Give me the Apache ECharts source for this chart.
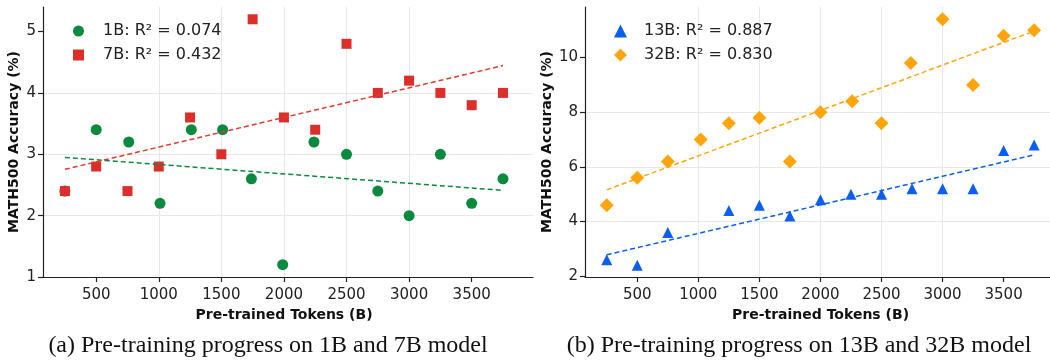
<!DOCTYPE html>
<html>
<head>
<meta charset="utf-8">
<script src="https://cdn.jsdelivr.net/npm/echarts@6/dist/echarts.min.js"></script>
<style>
html, body { margin: 0; padding: 0; background: #fff; }
#chart { width: 1050px; height: 360px; }
</style>
</head>
<body>
<div id="chart"></div>
<script>
// values
var x1B = [250, 500, 760, 1010, 1260, 1510, 1740, 1990, 2240, 2500, 2750, 3000, 3250, 3500, 3750];
var y1B = [2.4, 3.4, 3.2, 2.2, 3.4, 3.4, 2.6, 1.2, 3.2, 3.0, 2.4, 2.0, 3.0, 2.2, 2.6];
var x7B = [250, 500, 750, 1000, 1250, 1500, 1750, 2000, 2250, 2500, 2750, 3000, 3250, 3500, 3750];
var y7B = [2.4, 2.8, 2.4, 2.8, 3.6, 3.0, 5.2, 3.6, 3.4, 4.8, 4.0, 4.2, 4.0, 3.8, 4.0];
var x13B = [250, 500, 750, 1250, 1500, 1750, 2000, 2250, 2500, 2750, 3000, 3250, 3500, 3750];
var y13B = [2.6, 2.4, 3.6, 4.4, 4.6, 4.2, 4.8, 5.0, 5.0, 5.2, 5.2, 5.2, 6.6, 6.8];
var x32B = [250, 500, 750, 1020, 1250, 1500, 1750, 2000, 2260, 2500, 2740, 3000, 3250, 3500, 3750];
var y32B = [4.6, 5.6, 6.2, 7.0, 7.6, 7.8, 6.2, 8.0, 8.4, 7.6, 9.8, 11.4, 9.0, 10.8, 11.0];

var names = ['1B: R² = 0.074', '7B: R² = 0.432', '13B: R² = 0.887', '32B: R² = 0.830'];
var xTicks = [500, 1000, 1500, 2000, 2500, 3000, 3500];
var yTicksA = [1, 2, 3, 4, 5];
var yTicksB = [2, 4, 6, 8, 10];
var xName = 'Pre-trained Tokens (B)';
var yName = 'MATH500 Accuracy (%)';
var captions = ['(a) Pre-training progress on 1B and 7B model', '(b) Pre-training progress on 13B and 32B model'];

var colGreen = '#0a8a3e', colRed = '#da3029', colBlue = '#0a5ef0', colOrange = '#ffa40a';

function pairs(xs, ys) {
    return xs.map(function (x, i) { return [x, ys[i]]; });
}

// least squares fit, returned as the two end points of the trend line
function fitLine(xs, ys) {
    var n = xs.length, mx = 0, my = 0;
    for (var i = 0; i < n; i++) { mx += xs[i]; my += ys[i]; }
    mx /= n; my /= n;
    var sxy = 0, sxx = 0;
    for (var i = 0; i < n; i++) {
        sxy += (xs[i] - mx) * (ys[i] - my);
        sxx += (xs[i] - mx) * (xs[i] - mx);
    }
    var b = sxy / sxx, a = my - b * mx;
    var x0 = Math.min.apply(null, xs), x1 = Math.max.apply(null, xs);
    return [[x0, a + b * x0], [x1, a + b * x1]];
}

var axisCol = '#222';
var tickFont = { fontFamily: 'DejaVu Sans', fontSize: 15, color: '#222' };
var nameFont = { fontFamily: 'DejaVu Sans', fontSize: 14, fontWeight: 'bold', color: '#111' };

function plain(v) { return String(v); }

function xAxis(idx, min, max, pad) {
    return {
        type: 'value', gridIndex: idx, min: min, max: max, splitNumber: 8,
        name: xName, nameLocation: 'middle', nameGap: 24,
        nameTextStyle: Object.assign({ padding: pad }, nameFont),
        axisLine: { show: true, lineStyle: { color: axisCol, width: 1.2 } },
        axisTick: { show: true, length: 5, customValues: xTicks, lineStyle: { color: axisCol, width: 1.2 } },
        axisLabel: Object.assign({ margin: 11, customValues: xTicks, formatter: plain }, tickFont),
        splitLine: { show: true, showMinLine: false, showMaxLine: false, lineStyle: { color: '#e8e8e8', width: 1 } }
    };
}

function yAxis(idx, min, max, ticks, gap) {
    return {
        type: 'value', gridIndex: idx, min: min, max: max, splitNumber: 5,
        name: yName, nameLocation: 'middle', nameRotate: 90, nameGap: gap,
        nameTextStyle: nameFont,
        axisLine: { show: true, lineStyle: { color: axisCol, width: 1.2 } },
        axisTick: { show: true, length: 5, customValues: ticks, lineStyle: { color: axisCol, width: 1.2 } },
        axisLabel: Object.assign({ margin: 7, customValues: ticks, formatter: plain }, tickFont),
        splitLine: { show: true, showMinLine: false, showMaxLine: false, lineStyle: { color: '#e8e8e8', width: 1 } }
    };
}

function scatter(name, idx, data, symbol, size, color) {
    return {
        name: name, type: 'scatter', xAxisIndex: idx, yAxisIndex: idx,
        data: data, symbol: symbol, symbolSize: size,
        itemStyle: { color: color, opacity: 1 }, z: 2
    };
}

function trend(idx, data, color) {
    return {
        type: 'line', xAxisIndex: idx, yAxisIndex: idx, data: data,
        showSymbol: false, silent: true, z: 3,
        lineStyle: { color: color, width: 1.5, type: [5, 3] }
    };
}

// icon kept square, the text pushed right with padding
function legend(left, data, size) {
    return {
        orient: 'vertical', left: left, top: 18, itemWidth: size, itemHeight: size, itemGap: 8,
        data: data, selectedMode: false,
        textStyle: { fontFamily: 'DejaVu Sans', fontSize: 16, color: '#222', lineHeight: 16, padding: [0, 0, 0, 25 - size] }
    };
}

var myChart = echarts.init(document.getElementById('chart'), null, { renderer: 'canvas' });
var option = {
    animation: false,
    backgroundColor: '#fff',
    grid: [
        { left: 43, right: 517, top: 7, bottom: 83 },
        { left: 585, right: 0, top: 7, bottom: 83 }
    ],
    xAxis: [xAxis(0, 75, 3990, [0, 8, 0, 0]), xAxis(1, 72, 3880, [0, 0, 0, 6])],
    yAxis: [yAxis(0, 1, 5.4, yTicksA, 22), yAxis(1, 1.97, 11.85, yTicksB, 31)],
    legend: [legend(68, [names[0], names[1]], 11), legend(609, [names[2], names[3]], 13)],
    graphic: [
        { type: 'text', x: 268, y: 346, style: { text: captions[0], font: '24px "Liberation Serif"', fill: '#111', textAlign: 'center', textVerticalAlign: 'middle' } },
        { type: 'text', x: 799, y: 346, style: { text: captions[1], font: '24px "Liberation Serif"', fill: '#111', textAlign: 'center', textVerticalAlign: 'middle' } }
    ],
    series: [
        scatter(names[0], 0, pairs(x1B, y1B), 'circle', 11, colGreen),
        scatter(names[1], 0, pairs(x7B, y7B), 'rect', 10, colRed),
        trend(0, fitLine(x1B, y1B), colGreen),
        trend(0, fitLine(x7B, y7B), '#e23a30'),
        scatter(names[2], 1, pairs(x13B, y13B), 'triangle', 11, colBlue),
        scatter(names[3], 1, pairs(x32B, y32B), 'diamond', 14, colOrange),
        trend(1, fitLine(x13B, y13B), colBlue),
        trend(1, fitLine(x32B, y32B), colOrange)
    ]
};
myChart.setOption(option);
</script>
</body>
</html>
